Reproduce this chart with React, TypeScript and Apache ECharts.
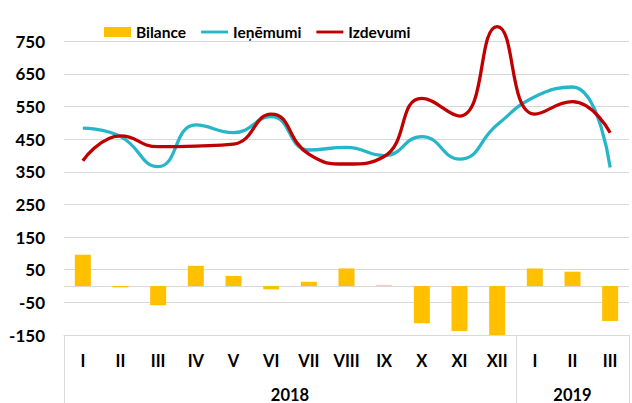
import React, { useEffect, useRef } from 'react';
import * as echarts from 'echarts';

const months = ['I', 'II', 'III', 'IV', 'V', 'VI', 'VII', 'VIII', 'IX', 'X', 'XI', 'XII', 'I', 'II', 'III'];
const years = ['2018', '2019'];
const yearMonthCounts = [12, 3];

const bilance = [96, -4, -59, 62, 31, -10, 13, 54, 2, -114, -138, -301, 54, 44, -107];
const ienemumi = [484, 458, 366, 494, 470, 519, 417, 425, 400, 458, 389, 494, 580, 610, 363];
const izdevumi = [384, 460, 427, 429, 435, 527, 404, 374, 397, 575, 521, 795, 527, 565, 470];

const yTickLabels = [-150, -50, 50, 150, 250, 350, 450, 550, 650, 750];

const FONT = 'Lato, "DejaVu Sans", sans-serif';
const GRID_COLOR = '#d9d9d9';
const LINE_ICON = 'path://M0,0H30V3.2H0Z';

export default function App() {
  const ref = useRef<HTMLDivElement>(null);
  useEffect(() => {
    const chart = echarts.init(ref.current!, null, { renderer: 'svg' });

    const starts: number[] = [];
    let acc = 0;
    yearMonthCounts.forEach((c) => { starts.push(acc); acc += c; });
    const yearCenters = yearMonthCounts.map((c, i) => starts[i] + c / 2);

    chart.setOption({
      animation: false,
      textStyle: { fontFamily: FONT },
      legend: {
        left: 104,
        top: 24,
        padding: 0,
        itemWidth: 27,
        itemHeight: 10,
        itemGap: 15,
        z: 1,
        textStyle: { fontFamily: FONT, fontWeight: 'bold', fontSize: 15.5, color: '#000' },
        data: [
          { name: 'Bilance', icon: 'rect' },
          { name: 'Ieņēmumi', icon: LINE_ICON },
          { name: 'Izdevumi', icon: LINE_ICON },
        ],
      },
      grid: { left: 64, top: 25, width: 572.6, height: 310.3, containLabel: false },
      xAxis: [
        {
          type: 'category',
          data: months,
          position: 'bottom',
          boundaryGap: true,
          axisLine: { show: true, onZero: false, lineStyle: { color: GRID_COLOR, width: 1 } },
          axisTick: {
            show: true,
            length: 70,
            interval: (i: number) => starts.includes(i),
            lineStyle: { color: GRID_COLOR, width: 1 },
          },
          axisLabel: {
            interval: 0,
            margin: 17,
            fontFamily: FONT,
            fontWeight: 'bold',
            fontSize: 16.5,
            color: '#000',
          },
          splitLine: { show: false },
        },
        {
          type: 'value',
          position: 'bottom',
          min: 0,
          max: months.length,
          interval: 0.5,
          axisLine: { show: false, onZero: false },
          axisTick: { show: false },
          splitLine: { show: false },
          axisLabel: {
            margin: 51,
            fontFamily: FONT,
            fontWeight: 'bold',
            fontSize: 16.5,
            color: '#000',
            formatter: (v: number) => {
              const idx = yearCenters.findIndex((c) => Math.abs(c - v) < 1e-6);
              return idx >= 0 ? years[idx] : '';
            },
          },
        },
      ],
      yAxis: {
        type: 'value',
        min: -150,
        max: 800,
        interval: 50,
        axisLine: { show: false },
        axisTick: { show: false },
        splitLine: {
          show: true,
          lineStyle: { color: [GRID_COLOR, 'rgba(0,0,0,0)'], width: 1 },
        },
        axisLabel: {
          margin: 19,
          fontFamily: FONT,
          fontWeight: 'bold',
          fontSize: 17,
          color: '#000',
          formatter: (v: number) => (yTickLabels.includes(Math.round(v)) ? String(Math.round(v)) : ''),
        },
      },
      series: [
        {
          name: 'Bilance',
          type: 'bar',
          data: bilance,
          barWidth: 16,
          itemStyle: { color: '#FFC000' },
          clip: true,
          markLine: {
            silent: true,
            symbol: 'none',
            label: { show: false },
            lineStyle: { color: GRID_COLOR, type: 'solid', width: 1 },
            data: [{ yAxis: 0 }],
            z: 0,
          },
        },
        {
          name: 'Ieņēmumi',
          type: 'line',
          data: ienemumi,
          smooth: 0.5,
          showSymbol: false,
          symbol: 'none',
          lineStyle: { color: '#27b6c8', width: 3.3 },
          itemStyle: { color: '#27b6c8' },
          z: 3,
        },
        {
          name: 'Izdevumi',
          type: 'line',
          data: izdevumi,
          smooth: 0.5,
          showSymbol: false,
          symbol: 'none',
          lineStyle: { color: '#C00000', width: 3.3 },
          itemStyle: { color: '#C00000' },
          z: 4,
        },
      ],
    });
    return () => chart.dispose();
  }, []);
  return (
    <div
      ref={ref}
      style={{ position: 'absolute', left: 0, top: 0, width: 632, height: 403, background: '#fff' }}
    />
  );
}
